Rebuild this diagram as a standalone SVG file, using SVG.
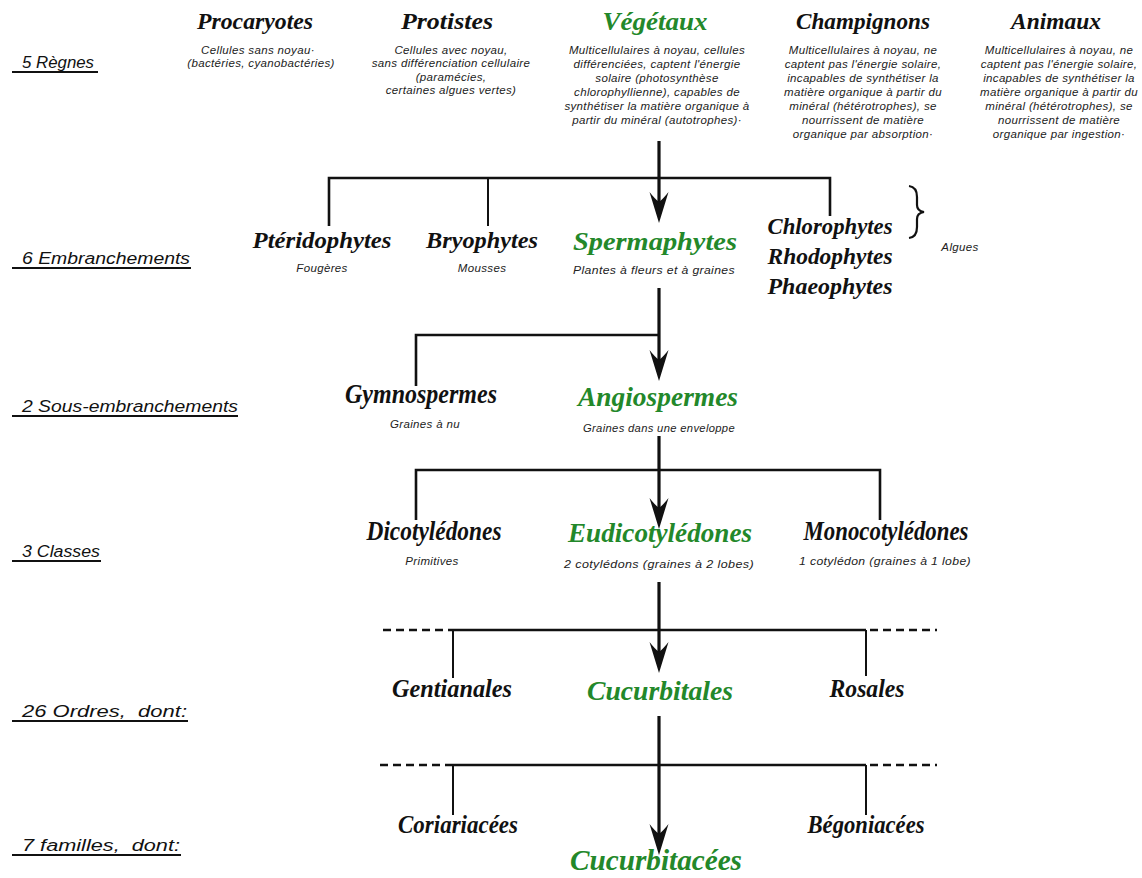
<svg xmlns="http://www.w3.org/2000/svg" width="1142" height="878" viewBox="0 0 1142 878">
<style>
  .t { font-family: "Liberation Serif", "DejaVu Serif", serif; font-style: italic; font-weight: bold; fill: #111; text-anchor: middle; }
  .g { fill: #23882a; }
  .d { font-family: "Liberation Sans", "DejaVu Sans", sans-serif; font-style: italic; font-size: 11.5px; letter-spacing: 0.35px; fill: #222; text-anchor: middle; }
  .l { font-family: "Liberation Sans", "DejaVu Sans", sans-serif; font-style: italic; font-size: 16px; fill: #111; }
  .ul { stroke: #111; stroke-width: 2; }
  .main { stroke: #111; stroke-width: 3.2; fill: none; }
  .br { stroke: #111; stroke-width: 2.6; fill: none; }
  .dr { stroke: #111; stroke-width: 2; fill: none; }
  .dash { stroke: #111; stroke-width: 2.6; stroke-dasharray: 8 5; fill: none; }
</style>
<defs>
  <path id="ah" d="M0,0 L-9.5,-31 Q-4,-24 0,-21 Q4,-24 9.5,-31 Z" fill="#111"/>
</defs>
<rect width="1142" height="878" fill="#fff"/>

<g id="levels">
  <text class="l" x="22" y="68" textLength="72" lengthAdjust="spacingAndGlyphs">5 Règnes</text>
  <line class="ul" x1="12" y1="72" x2="98" y2="72"/>
  <text class="l" x="22" y="264" textLength="168" lengthAdjust="spacingAndGlyphs">6 Embranchements</text>
  <line class="ul" x1="12" y1="268" x2="191" y2="268"/>
  <text class="l" x="22" y="412" textLength="216" lengthAdjust="spacingAndGlyphs">2 Sous-embranchements</text>
  <line class="ul" x1="12" y1="416" x2="238" y2="416"/>
  <text class="l" x="22" y="557" textLength="78" lengthAdjust="spacingAndGlyphs">3 Classes</text>
  <line class="ul" x1="12" y1="561" x2="101" y2="561"/>
  <text class="l" x="22" y="717" textLength="165" lengthAdjust="spacingAndGlyphs">26 Ordres,&#160;&#160;dont:</text>
  <line class="ul" x1="12" y1="721" x2="188" y2="721"/>
  <text class="l" x="22" y="851" textLength="158" lengthAdjust="spacingAndGlyphs">7 familles,&#160;&#160;dont:</text>
  <line class="ul" x1="12" y1="855" x2="181" y2="855"/>
</g>

<g id="connectors">
  <line class="main" x1="659" y1="141" x2="659" y2="205"/>
  <use href="#ah" x="659" y="223"/>
  <polyline class="br" points="329,226 329,178 830,178 830,216"/>
  <line class="dr" x1="488" y1="178" x2="488" y2="226"/>

  <line class="main" x1="659" y1="288" x2="659" y2="365"/>
  <use href="#ah" x="659" y="381"/>
  <polyline class="br" points="416,386 416,335 659,335"/>

  <line class="main" x1="659" y1="436" x2="659" y2="512"/>
  <use href="#ah" x="659" y="529"/>
  <polyline class="br" points="416,520 416,470 880,470 880,520"/>

  <line class="main" x1="659" y1="582" x2="659" y2="655"/>
  <use href="#ah" x="659" y="673"/>
  <line class="dash" x1="383" y1="630" x2="453" y2="630"/>
  <line class="br" x1="453" y1="630" x2="866" y2="630"/>
  <line class="dash" x1="870" y1="630" x2="937" y2="630"/>
  <line class="dr" x1="453" y1="630" x2="453" y2="678"/>
  <line class="dr" x1="866" y1="630" x2="866" y2="676"/>

  <line class="main" x1="659" y1="716" x2="659" y2="838"/>
  <use href="#ah" x="659" y="855"/>
  <line class="dash" x1="380" y1="765" x2="453" y2="765"/>
  <line class="br" x1="453" y1="765" x2="866" y2="765"/>
  <line class="dash" x1="870" y1="765" x2="937" y2="765"/>
  <line class="dr" x1="453" y1="765" x2="453" y2="815"/>
  <line class="dr" x1="866" y1="765" x2="866" y2="815"/>
</g>

<g id="procaryotes">
  <text class="t" x="255" y="29" font-size="24" textLength="116" lengthAdjust="spacingAndGlyphs">Procaryotes</text>
  <text class="d" x="258" y="54">Cellules sans noyau·</text>
  <text class="d" x="261" y="67">(bactéries, cyanobactéries)</text>
</g>
<g id="protistes">
  <text class="t" x="447" y="29" font-size="24" textLength="92" lengthAdjust="spacingAndGlyphs">Protistes</text>
  <text class="d" x="451" y="54">Cellules avec noyau,</text>
  <text class="d" x="451" y="67">sans différenciation cellulaire</text>
  <text class="d" x="451" y="81">(paramécies,</text>
  <text class="d" x="451" y="94">certaines algues vertes)</text>
</g>
<g id="vegetaux">
  <text class="t g" x="655" y="30" font-size="26" textLength="105" lengthAdjust="spacingAndGlyphs">Végétaux</text>
  <text class="d" x="657" y="54">Multicellulaires à noyau, cellules</text>
  <text class="d" x="657" y="68">différenciées, captent l'énergie</text>
  <text class="d" x="657" y="82">solaire (photosynthèse</text>
  <text class="d" x="657" y="96">chlorophyllienne), capables de</text>
  <text class="d" x="657" y="110">synthétiser la matière organique à</text>
  <text class="d" x="657" y="124">partir du minéral (autotrophes)·</text>
</g>
<g id="champignons">
  <text class="t" x="863" y="29" font-size="23" textLength="134" lengthAdjust="spacingAndGlyphs">Champignons</text>
  <text class="d" x="863" y="54">Multicellulaires à noyau, ne</text>
  <text class="d" x="863" y="68">captent pas l'énergie solaire,</text>
  <text class="d" x="863" y="82">incapables de synthétiser la</text>
  <text class="d" x="863" y="96">matière organique à partir du</text>
  <text class="d" x="863" y="110">minéral (hétérotrophes), se</text>
  <text class="d" x="863" y="124">nourrissent de matière</text>
  <text class="d" x="863" y="138">organique par absorption·</text>
</g>
<g id="animaux">
  <text class="t" x="1056" y="29" font-size="24" textLength="90" lengthAdjust="spacingAndGlyphs">Animaux</text>
  <text class="d" x="1059" y="54">Multicellulaires à noyau, ne</text>
  <text class="d" x="1059" y="68">captent pas l'énergie solaire,</text>
  <text class="d" x="1059" y="82">incapables de synthétiser la</text>
  <text class="d" x="1059" y="96">matière organique à partir du</text>
  <text class="d" x="1059" y="110">minéral (hétérotrophes), se</text>
  <text class="d" x="1059" y="124">nourrissent de matière</text>
  <text class="d" x="1059" y="138">organique par ingestion·</text>
</g>

<g id="pteridophytes">
  <text class="t" x="322" y="248" font-size="24" textLength="139" lengthAdjust="spacingAndGlyphs">Ptéridophytes</text>
  <text class="d" x="322" y="272" font-size="10.5">Fougères</text>
</g>
<g id="bryophytes">
  <text class="t" x="482" y="248" font-size="24" textLength="112" lengthAdjust="spacingAndGlyphs">Bryophytes</text>
  <text class="d" x="482" y="272" font-size="10.5">Mousses</text>
</g>
<g id="spermaphytes">
  <text class="t g" x="655" y="250" font-size="25" textLength="164" lengthAdjust="spacingAndGlyphs">Spermaphytes</text>
  <text class="d" x="654" y="274" font-size="11" textLength="162" lengthAdjust="spacingAndGlyphs">Plantes à fleurs et à graines</text>
</g>
<g id="algues">
  <text class="t" x="830" y="234" font-size="24" textLength="125" lengthAdjust="spacingAndGlyphs">Chlorophytes</text>
  <text class="t" x="830" y="264" font-size="24" textLength="125" lengthAdjust="spacingAndGlyphs">Rhodophytes</text>
  <text class="t" x="830" y="294" font-size="24" textLength="125" lengthAdjust="spacingAndGlyphs">Phaeophytes</text>
  <path d="M909,186 Q917,187 917,197 L917,205 Q917,211 924,212 Q917,213 917,219 L917,227 Q917,237 909,238" fill="none" stroke="#111" stroke-width="2.2"/>
  <text class="d" x="960" y="251" font-size="10.5">Algues</text>
</g>

<g id="gymnospermes">
  <text class="t" x="421" y="403" font-size="27" textLength="152" lengthAdjust="spacingAndGlyphs">Gymnospermes</text>
  <text class="d" x="425" y="428" font-size="10">Graines à nu</text>
</g>
<g id="angiospermes">
  <text class="t g" x="658" y="406" font-size="27" textLength="160" lengthAdjust="spacingAndGlyphs">Angiospermes</text>
  <text class="d" x="659" y="432" font-size="10" textLength="152" lengthAdjust="spacingAndGlyphs">Graines dans une enveloppe</text>
</g>

<g id="dicotyledones">
  <text class="t" x="434" y="540" font-size="27" textLength="135" lengthAdjust="spacingAndGlyphs">Dicotylédones</text>
  <text class="d" x="432" y="565" font-size="10">Primitives</text>
</g>
<g id="eudicotyledones">
  <text class="t g" x="660" y="542" font-size="28" textLength="184" lengthAdjust="spacingAndGlyphs">Eudicotylédones</text>
  <text class="d" x="659" y="568" font-size="11" textLength="190" lengthAdjust="spacingAndGlyphs">2 cotylédons (graines à 2 lobes)</text>
</g>
<g id="monocotyledones">
  <text class="t" x="886" y="540" font-size="27" textLength="165" lengthAdjust="spacingAndGlyphs">Monocotylédones</text>
  <text class="d" x="885" y="565" font-size="10.5" textLength="172" lengthAdjust="spacingAndGlyphs">1 cotylédon (graines à 1 lobe)</text>
</g>

<g id="gentianales">
  <text class="t" x="452" y="697" font-size="26" textLength="120" lengthAdjust="spacingAndGlyphs">Gentianales</text>
</g>
<g id="cucurbitales">
  <text class="t g" x="660" y="700" font-size="27" textLength="146" lengthAdjust="spacingAndGlyphs">Cucurbitales</text>
</g>
<g id="rosales">
  <text class="t" x="867" y="697" font-size="26" textLength="75" lengthAdjust="spacingAndGlyphs">Rosales</text>
</g>

<g id="coriariacees">
  <text class="t" x="458" y="833" font-size="26" textLength="120" lengthAdjust="spacingAndGlyphs">Coriariacées</text>
</g>
<g id="begoniacees">
  <text class="t" x="866" y="833" font-size="26" textLength="117" lengthAdjust="spacingAndGlyphs">Bégoniacées</text>
</g>
<g id="cucurbitacees">
  <text class="t g" x="656" y="870" font-size="30" textLength="172" lengthAdjust="spacingAndGlyphs">Cucurbitacées</text>
</g>
</svg>
